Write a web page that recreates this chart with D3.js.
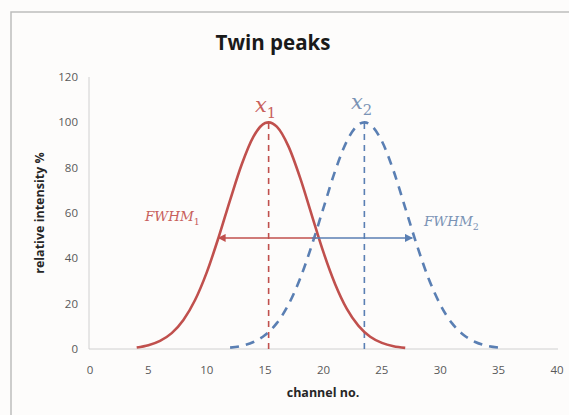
<!DOCTYPE html>
<html>
<head>
<meta charset="utf-8">
<script src="https://cdn.jsdelivr.net/npm/d3@7"></script>
<style>
  html, body { margin: 0; padding: 0; background: #fdfcfb; }
  svg { display: block; }
</style>
</head>
<body>
<svg id="chart" width="569" height="415"></svg>
<script>
// Peak 1 (solid red) – channel and relative intensity
const redChannels = [4, 5, 6, 7, 8, 9, 10, 11, 12, 13, 14, 15, 15.3, 16, 17, 18, 19, 20, 21, 22, 23, 24, 25, 26, 27];
const redIntensity = [0.7, 1.7, 3.6, 7.0, 12.8, 21.6, 33.8, 49.0, 65.7, 81.5, 93.7, 99.7, 100, 98.1, 89.4, 75.5, 59.0, 42.6, 28.6, 17.7, 10.2, 5.4, 2.7, 1.2, 0.5];

// Peak 2 (dashed blue)
const blueChannels = [12, 13, 14, 15, 16, 17, 18, 19, 20, 21, 22, 23, 23.5, 24, 25, 26, 27, 28, 29, 30, 31, 32, 33, 34, 35];
const blueIntensity = [0.6, 1.4, 3.1, 6.2, 11.4, 19.6, 31.1, 45.8, 62.3, 78.6, 91.7, 99.0, 100, 99.0, 91.7, 78.6, 62.3, 45.8, 31.1, 19.6, 11.4, 6.2, 3.1, 1.4, 0.6];

// Peak centres and FWHM arrows (level, from, to)
const peakCentres = [15.3, 23.5];
const peakMax = 100;
const fwhmLevel = 49;
const fwhmRed = [19.4, 11.0];
const fwhmBlue = [19.0, 27.6];

const xTicks = [0, 5, 10, 15, 20, 25, 30, 35, 40];
const yTicks = [0, 20, 40, 60, 80, 100, 120];

const RED = "#c0504d";
const BLUE = "#5a7fb3";

const svg = d3.select("#chart");

// chart frame (top and left edges visible)
svg.append("rect").attr("x", 0).attr("y", 0).attr("width", 569).attr("height", 415).attr("fill", "#fdfcfb");
svg.append("path")
  .attr("d", "M11,415 L11,12 L569,12")
  .attr("fill", "none").attr("stroke", "#bdbdbd").attr("stroke-width", 1.5);

const x = d3.scaleLinear().domain([0, 40]).range([90, 557]);
const y = d3.scaleLinear().domain([0, 120]).range([349, 77]);

// axis lines
svg.append("line").attr("x1", 89).attr("x2", 558).attr("y1", y(0)).attr("y2", y(0))
  .attr("stroke", "#d0d0d0").attr("stroke-width", 1);
svg.append("line").attr("x1", 89).attr("x2", 89).attr("y1", y(120)).attr("y2", y(0))
  .attr("stroke", "#d0d0d0").attr("stroke-width", 1);

// tick labels
const tickFont = "Open Sans, sans-serif";
svg.append("g").selectAll("text").data(yTicks).join("text")
  .attr("x", 78).attr("y", d => y(d)).attr("dy", "0.35em")
  .attr("text-anchor", "end").attr("font-family", tickFont).attr("font-size", 11.5)
  .attr("fill", "#595959").text(d => d);
svg.append("g").selectAll("text").data(xTicks).join("text")
  .attr("x", d => x(d)).attr("y", 370).attr("dy", "0.35em")
  .attr("text-anchor", "middle").attr("font-family", tickFont).attr("font-size", 11.5)
  .attr("fill", "#595959").text(d => d);

// axis titles
svg.append("text").attr("x", 323).attr("y", 393).attr("dy", "0.35em")
  .attr("text-anchor", "middle").attr("font-family", tickFont).attr("font-weight", "bold")
  .attr("font-size", 12.5).attr("fill", "#262626").text("channel no.");
svg.append("text").attr("transform", "translate(40,213) rotate(-90)").attr("dy", "0.35em")
  .attr("text-anchor", "middle").attr("font-family", tickFont).attr("font-weight", "bold")
  .attr("font-size", 12.5).attr("fill", "#262626").text("relative intensity %");

// title
svg.append("text").attr("x", 273).attr("y", 50)
  .attr("text-anchor", "middle").attr("font-family", tickFont).attr("font-weight", "bold")
  .attr("font-size", 20.5).attr("fill", "#1a1a1a").text("Twin peaks");

const line = d3.line().x(d => x(d[0])).y(d => y(d[1])).curve(d3.curveMonotoneX);

// centre markers
svg.append("line").attr("x1", x(peakCentres[0])).attr("x2", x(peakCentres[0]))
  .attr("y1", y(0)).attr("y2", y(peakMax))
  .attr("stroke", RED).attr("stroke-width", 1.6).attr("stroke-dasharray", "6,5");
svg.append("line").attr("x1", x(peakCentres[1])).attr("x2", x(peakCentres[1]))
  .attr("y1", y(0)).attr("y2", y(peakMax))
  .attr("stroke", BLUE).attr("stroke-width", 1.6).attr("stroke-dasharray", "6,5");

// peak curves
svg.append("path").datum(d3.zip(blueChannels, blueIntensity))
  .attr("d", line).attr("fill", "none").attr("stroke", BLUE)
  .attr("stroke-width", 2.6).attr("stroke-dasharray", "9,7");
svg.append("path").datum(d3.zip(redChannels, redIntensity))
  .attr("d", line).attr("fill", "none").attr("stroke", RED).attr("stroke-width", 2.6);

// arrow heads
const defs = svg.append("defs");
[["arrRed", RED], ["arrBlue", BLUE]].forEach(([id, c]) => {
  defs.append("marker").attr("id", id).attr("viewBox", "0 0 10 10")
    .attr("refX", 9).attr("refY", 5).attr("markerWidth", 5).attr("markerHeight", 5)
    .attr("orient", "auto")
    .append("path").attr("d", "M0,0 L10,5 L0,10 Z").attr("fill", c);
});

svg.append("line").attr("x1", x(fwhmRed[0])).attr("x2", x(fwhmRed[1]))
  .attr("y1", y(fwhmLevel)).attr("y2", y(fwhmLevel))
  .attr("stroke", RED).attr("stroke-width", 1.6).attr("marker-end", "url(#arrRed)");
svg.append("line").attr("x1", x(fwhmBlue[0])).attr("x2", x(fwhmBlue[1]))
  .attr("y1", y(fwhmLevel)).attr("y2", y(fwhmLevel))
  .attr("stroke", BLUE).attr("stroke-width", 1.6).attr("marker-end", "url(#arrBlue)");

// math labels
const mathFont = "DejaVu Serif, serif";
function mathLabel(px, py, main, sub, color, size) {
  const t = svg.append("text").attr("x", px).attr("y", py)
    .attr("font-family", mathFont).attr("fill", color).attr("font-size", size);
  t.append("tspan").attr("font-style", "italic").text(main);
  t.append("tspan").attr("font-size", size * 0.7).attr("dy", size * 0.3).text(sub);
}
mathLabel(255, 112, "x", "1", "#c8605c", 21);
mathLabel(351, 109, "x", "2", "#7a93b5", 21);
mathLabel(145, 221, "FWHM", "1", "#c8605c", 13.5);
mathLabel(424, 226, "FWHM", "2", "#7a93b5", 13.5);
</script>
</body>
</html>
